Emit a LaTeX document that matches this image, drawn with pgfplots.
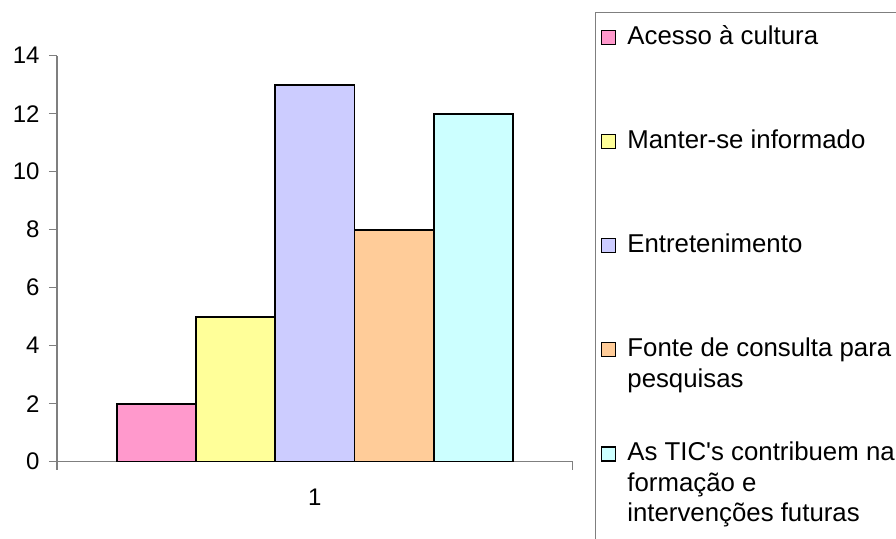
\documentclass[border=0pt]{standalone}
\usepackage{pgfplots}
\pgfplotsset{compat=1.18}
\usepackage{fontspec}
\setmainfont{Liberation Sans}
\definecolor{c1}{HTML}{FF99CC}
\definecolor{c2}{HTML}{FFFF99}
\definecolor{c3}{HTML}{CCCCFF}
\definecolor{c4}{HTML}{FFCC99}
\definecolor{c5}{HTML}{CCFFFF}
\definecolor{axgray}{HTML}{7F7F7F}
\newcommand{\lent}[1]{\parbox[t]{290pt}{\fontsize{25.8}{30.5}\selectfont #1}}
\pgfplotsset{sqlegend/.style={legend image code/.code={\draw[##1,draw=black,line width=1.2pt] (0pt,0pt) rectangle (14pt,14pt);}}}
\begin{document}
\begin{tikzpicture}
\useasboundingbox (0,0) rectangle (896pt,538pt);
\draw[axgray, line width=1pt] (595pt,-20pt) rectangle (930pt,525pt);
\begin{axis}[
  at={(57pt,76.3pt)}, anchor=south west, scale only axis,
  width=515.7pt, height=406pt,
  xmin=0.5, xmax=1.5, ymin=0, ymax=14,
  axis x line=bottom, axis y line=left,
  axis line style={-, draw=axgray, line width=1.2pt},
  ybar=0pt, bar width=79.3pt,
  ytick={0,2,...,14},
  xtick={0.5,1.5}, xticklabels={,},
  extra x ticks={1}, extra x tick labels={1},
  extra x tick style={major tick length=0pt, xticklabel style={yshift=-24pt}},
  tick align=outside, major tick length=8pt,
  tick style={draw=axgray, line width=1.2pt},
  ticklabel style={font=\fontsize{24}{28}\selectfont},
  /pgf/number format/assume math mode=true,
  yticklabel style={xshift=-6pt},
  legend style={at={(1.04325,1.10517)}, anchor=north west,
    draw=none, fill=none,
    inner xsep=6pt, inner ysep=10pt, row sep=80pt, column sep=9pt,
    cells={anchor=base west}},
]
\addplot[fill=c1, draw=black, line width=1.8pt, sqlegend] coordinates {(1,2)};
\addlegendentry{\lent{Acesso à cultura}}
\addplot[fill=c2, draw=black, line width=1.8pt, sqlegend] coordinates {(1,5)};
\addlegendentry{\lent{Manter-se informado}}
\addplot[fill=c3, draw=black, line width=1.8pt, sqlegend] coordinates {(1,13)};
\addlegendentry{\lent{Entretenimento}}
\addplot[fill=c4, draw=black, line width=1.8pt, sqlegend] coordinates {(1,8)};
\addlegendentry{\lent{Fonte de consulta para\\pesquisas}}
\addplot[fill=c5, draw=black, line width=1.8pt, sqlegend] coordinates {(1,12)};
\addlegendentry{\lent{As TIC\textquotesingle s contribuem na\\formação e\\intervenções futuras}}
\end{axis}
\end{tikzpicture}
\end{document}
